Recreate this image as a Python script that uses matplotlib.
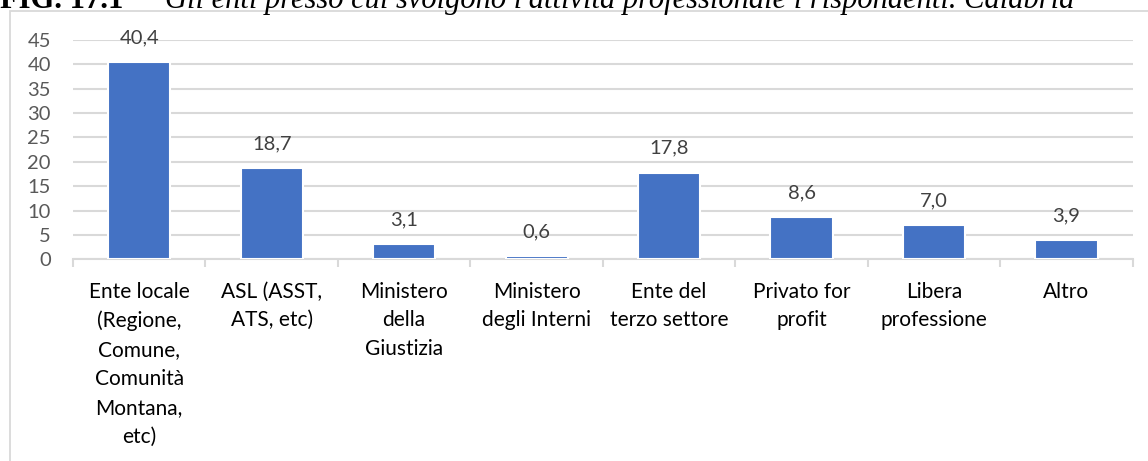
import matplotlib.pyplot as plt
from matplotlib.patches import Rectangle
from matplotlib.ticker import FixedLocator

categorie = [
    'Ente locale\n(Regione,\nComune,\nComunità\nMontana,\netc)',
    'ASL (ASST,\nATS, etc)',
    'Ministero\ndella\nGiustizia',
    'Ministero\ndegli Interni',
    'Ente del\nterzo settore',
    'Privato for\nprofit',
    'Libera\nprofessione',
    'Altro',
]
valori = [40.4, 18.7, 3.1, 0.6, 17.8, 8.6, 7.0, 3.9]
y_ticks = [0, 5, 10, 15, 20, 25, 30, 35, 40, 45]

plt.rcParams['font.family'] = ['Lato', 'DejaVu Sans']

fig = plt.figure(figsize=(11.48, 4.61), dpi=100)
ax = fig.add_axes([0.0636, 0.4375, 0.9231, 0.4757])

# cornice del grafico (lato sinistro e superiore)
fig.add_artist(Rectangle((10 / 1148, -0.1), 1.2, (461 - 11) / 461 + 0.1,
                         transform=fig.transFigure, fill=False,
                         edgecolor='#d9d9d9', linewidth=1.3))

# titolo tagliato in alto
fig.text(0.0, 1 - 8 / 461, 'FIG. 17.1', fontfamily='Liberation Serif',
         fontweight='bold', fontsize=22, va='baseline', ha='left', color='#000000')
fig.text(165 / 1148, 1 - 8 / 461,
         "Gli enti presso cui svolgono l'attività professionale i rispondenti. Calabria",
         fontfamily='Liberation Serif', fontstyle='italic', fontsize=22,
         va='baseline', ha='left', color='#000000')

x = list(range(len(categorie)))
ax.bar(x, valori, width=0.47, color='#4472C4', edgecolor='white', linewidth=1.5, zorder=3)

for xi, v in zip(x, valori):
    ax.annotate(f'{v:.1f}'.replace('.', ','), (xi, v), xytext=(0, 13.5),
                textcoords='offset points', ha='center', va='baseline',
                fontsize=14.5, color='#404040', zorder=4)

ax.set_xlim(-0.5, len(categorie) - 0.5)
ax.set_ylim(0, 45)
ax.set_yticks(y_ticks)
ax.set_xticks(x)
ax.set_xticklabels(categorie, fontsize=15, color='#000000', linespacing=1.55, va='top')
ax.xaxis.set_minor_locator(FixedLocator([i - 0.5 for i in range(len(categorie) + 1)]))

ax.tick_params(axis='y', length=0, pad=16, labelsize=14.5, labelcolor='#595959')
ax.tick_params(axis='x', which='major', length=0, pad=16)
ax.tick_params(axis='x', which='minor', length=6, width=1.5, color='#d9d9d9', direction='out')

ax.grid(axis='y', color='#d9d9d9', linewidth=1.5, zorder=0)
ax.set_axisbelow(True)
for side in ['top', 'right', 'left']:
    ax.spines[side].set_visible(False)
ax.spines['bottom'].set_color('#d9d9d9')
ax.spines['bottom'].set_linewidth(1.5)

fig.savefig('out.png', dpi=100)
